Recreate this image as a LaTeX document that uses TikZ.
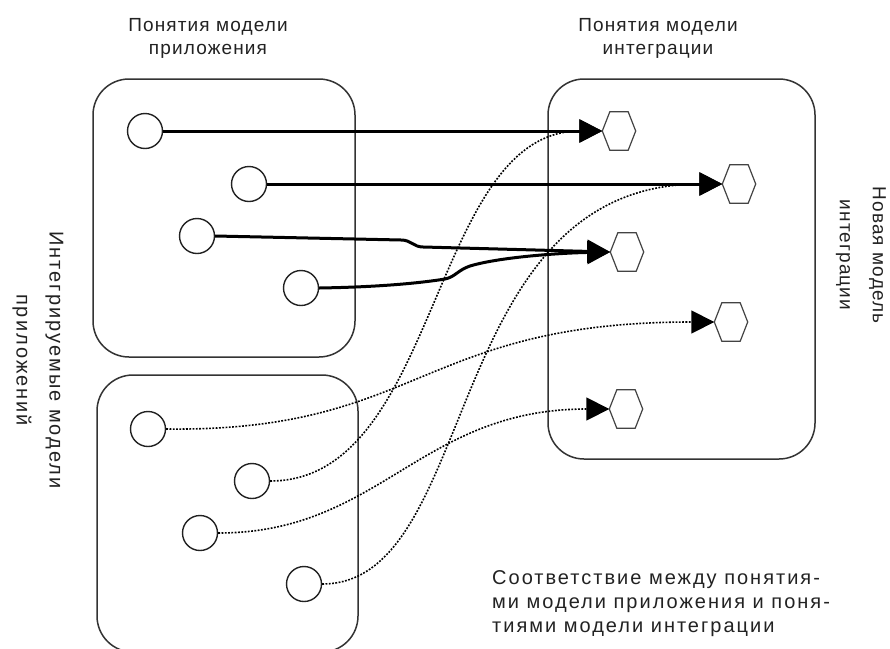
\documentclass[tikz,border=0pt]{standalone}
\usepackage{fontspec}
\setmainfont{Liberation Sans}[LetterSpace=6]
\newfontfamily\widefont{Liberation Sans}[LetterSpace=10]
\usetikzlibrary{arrows.meta}
\definecolor{ink}{HTML}{222222}
\definecolor{frame}{HTML}{333333}
\begin{document}
\begin{tikzpicture}[x=1pt,y=-1pt,
  box/.style={draw=frame, line width=1.5pt, rounded corners=36pt, inner sep=0pt},
  cnode/.style={circle, draw=ink, fill=white, line width=1.4pt, minimum size=35pt, inner sep=0pt},
  hexnode/.style={rectangle, inner sep=0pt, minimum width=33pt, minimum height=38pt},
  hexline/.style={draw=ink!85, fill=white, line width=1.2pt, line join=miter},
  solidcon/.style={draw=black, line width=3pt, -{Triangle[length=23pt,width=23pt]}},
  dotcon/.style={draw=black, line width=1.6pt, dash pattern=on 1.8pt off 1.5pt, -{Triangle[length=23pt,width=23pt]}},
  lbl/.style={text=ink, font=\fontsize{19}{23}\selectfont, align=center, inner sep=0pt},
]
\useasboundingbox (0,0) rectangle (890,648);
\fill[white] (0,0) rectangle (890,648);

% boxes
\node[box, minimum width=262pt, minimum height=278pt] (boxA) at (224,218) {};
\node[box, minimum width=261pt, minimum height=277pt] (boxB) at (227.5,513.5) {};
\node[box, minimum width=267pt, minimum height=380pt] (boxC) at (681.5,269) {};

% application concepts
\node[cnode] (a1) at (145,131) {};
\node[cnode] (a2) at (249,184) {};
\node[cnode] (a3) at (197,236) {};
\node[cnode] (a4) at (301,288) {};
\node[cnode] (b1) at (148,429) {};
\node[cnode] (b2) at (252,481) {};
\node[cnode] (b3) at (200,533) {};
\node[cnode] (b4) at (304,584) {};

% integration concepts
\node[hexnode] (h1) at (619,131) {};
\node[hexnode] (h2) at (739,184) {};
\node[hexnode] (h3) at (627,252) {};
\node[hexnode] (h4) at (731,322) {};
\node[hexnode] (h5) at (626,409) {};
\foreach \h in {h1,h2,h3,h4,h5}
  \draw[hexline] (\h.west) -- ([xshift=7.5pt]\h.north west) -- ([xshift=-7.5pt]\h.north east)
    -- (\h.east) -- ([xshift=-7.5pt]\h.south east) -- ([xshift=7.5pt]\h.south west) -- cycle;

% solid connectors
\draw[solidcon] (a1.east) -- (h1.west);
\draw[solidcon] (a2.east) -- (h2.west);
\draw[solidcon] (a3.east) -- ++(186,4) .. controls +(10,0) and +(-10,0) .. ++(22,7) -- (h3.west);
\draw[solidcon] (a4.east) .. controls (380,287) and (420,283) .. (445,279)
   .. controls (455,277) and (458,270) .. (470,266)
   .. controls (500,257) and (560,253) .. (h3.west);

% dotted connectors
\draw[dotcon] (b1.east) .. controls (420,432) and (420,322) .. (h4.west);
\draw[dotcon] (b2.east) .. controls (440,481) and (430,131) .. (h1.west);
\draw[dotcon] (b3.east) .. controls (380,533) and (420,409) .. (h5.west);
\draw[dotcon] (b4.east) .. controls (480,584) and (440,184) .. (h2.west);

% labels
\node[lbl] (t1) at (208,38) {Понятия модели\\приложения};
\node[lbl] (t2) at (658,38) {Понятия модели\\интеграции};
\node[lbl, rotate=-90, font=\widefont\fontsize{20}{33}\selectfont] (t3) at (38,360) {Интегрируемые модели\\приложений};
\node[lbl, rotate=-90, font=\fontsize{19}{33}\selectfont] (t4) at (861,255) {Новая модель\\интеграции};
\node[lbl, align=left, anchor=north west, font=\widefont\fontsize{20}{24}\selectfont] (t5) at (492,570)
  {Соответствие между понятия-\\ми модели приложения и поня-\\тиями модели интеграции};
\end{tikzpicture}
\end{document}
